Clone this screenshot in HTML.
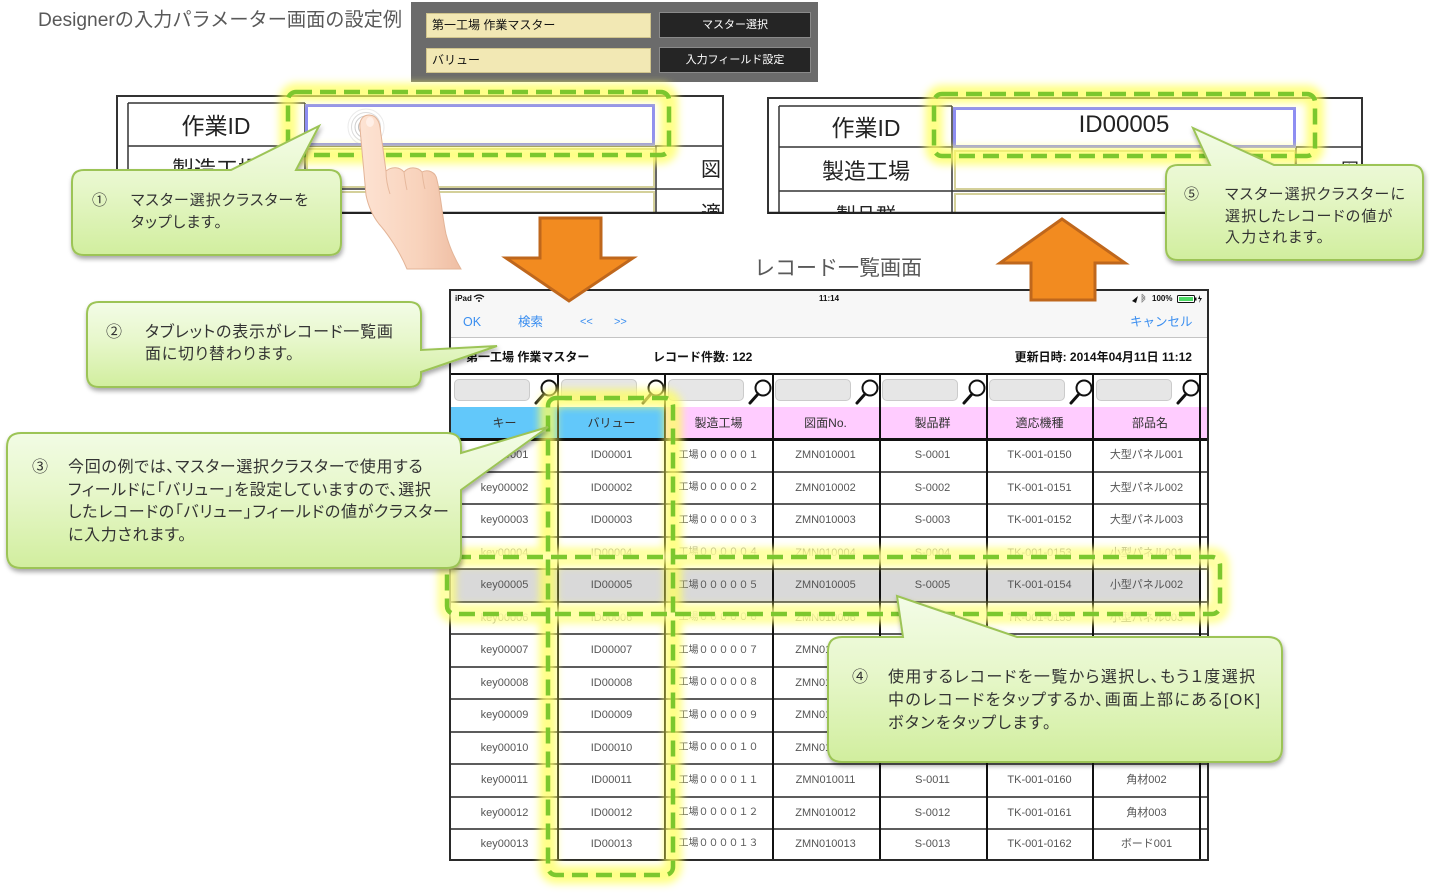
<!DOCTYPE html>
<html><head><meta charset="utf-8"><style>
*{margin:0;padding:0;box-sizing:border-box}
html,body{width:1432px;height:893px;overflow:hidden;background:#fff}
body{position:relative;font-family:"Liberation Sans","Noto Sans CJK JP",sans-serif}
.a{position:absolute;white-space:nowrap}
.r{position:absolute;left:451px;width:749px;display:flex}
.r span{display:block;width:107px;text-align:center;font-size:11px;color:#555;white-space:nowrap}
.r span.c3{font-size:10px}
.r.f span{color:#999}
.sf{position:absolute;top:379px;width:76px;height:22px;background:#e6e6e6;border:1px solid #cbcbcb;border-radius:5px}
.hd{position:absolute;top:407px;height:32px;width:107px;line-height:32px;text-align:center;font-size:12px;color:#333}
.hl{position:absolute;left:451px;width:756px;height:2px;background:#5c5c5c}
.vl{position:absolute;top:374px;height:485px;width:2px;background:#111}
.ct{position:absolute;white-space:nowrap;color:#333;font-feature-settings:"palt";letter-spacing:1px}
.nv{position:absolute;top:314px;font-size:12.5px;line-height:16px;color:#3a8ef0}
.inf{position:absolute;top:349px;font-size:12px;line-height:16px;font-weight:bold;color:#111}
</style></head><body>

<!-- Title -->
<div class="a" style="left:38px;top:9px;font-size:19.2px;line-height:24px;color:#595959">Designerの入力パラメーター画面の設定例</div>

<!-- Designer panel -->
<div class="a" style="left:411px;top:2px;width:407px;height:80px;background:#6b6b6b"></div>
<div class="a" style="left:426px;top:13px;width:225px;height:25px;background:#f2e8b4;border:1px solid #d0c48c;font-size:12px;line-height:23px;padding-left:5px;color:#111">第一工場 作業マスター</div>
<div class="a" style="left:659px;top:12px;width:152px;height:26px;background:#252525;border:1px solid #8a8a8a;color:#fff;font-size:11px;line-height:24px;text-align:center">マスター選択</div>
<div class="a" style="left:426px;top:48px;width:225px;height:25px;background:#f2e8b4;border:1px solid #d0c48c;font-size:12px;line-height:23px;padding-left:5px;color:#111">バリュー</div>
<div class="a" style="left:659px;top:47px;width:152px;height:26px;background:#252525;border:1px solid #8a8a8a;color:#fff;font-size:11px;line-height:24px;text-align:center">入力フィールド設定</div>

<!-- Record list title -->
<div class="a" style="left:754px;top:256px;font-size:21px;line-height:26px;color:#595959">レコード一覧画面</div>

<!-- iPad screen -->
<div class="a" style="left:451px;top:291px;width:756px;height:47px;background:#f7f7f7;border-bottom:1px solid #c4c4c4"></div>
<div class="a" style="left:455px;top:294px;font-size:8px;line-height:10px;font-weight:bold;color:#111">iPad</div>
<div class="a" style="left:819px;top:294px;font-size:8px;line-height:10px;font-weight:bold;color:#111">11:14</div>
<div class="a" style="left:1152px;top:294px;font-size:8px;line-height:10px;font-weight:bold;color:#111">100%</div>

<div class="nv" style="left:463px">OK</div>
<div class="nv" style="left:518px">検索</div>
<div class="nv" style="left:580px;font-size:11px">&lt;&lt;</div>
<div class="nv" style="left:614px;font-size:11px">&gt;&gt;</div>
<div class="nv" style="left:1130px">キャンセル</div>

<div class="inf" style="left:466px">第一工場 作業マスター</div>
<div class="inf" style="left:653px">レコード件数: 122</div>
<div class="inf" style="right:240px">更新日時: 2014年04月11日 11:12</div>

<div class="a" style="left:451px;top:373px;width:756px;height:2px;background:#111"></div>

<!-- search fields -->
<div class="sf" style="left:454px"></div>
<div class="sf" style="left:561px"></div>
<div class="sf" style="left:668px"></div>
<div class="sf" style="left:775px"></div>
<div class="sf" style="left:882px"></div>
<div class="sf" style="left:989px"></div>
<div class="sf" style="left:1096px"></div>

<!-- header -->
<div class="hd" style="left:451px;background:#62c8fa">キー</div>
<div class="hd" style="left:558px;background:#62c8fa">バリュー</div>
<div class="hd" style="left:665px;background:#ffccff">製造工場</div>
<div class="hd" style="left:772px;background:#ffccff">図面No.</div>
<div class="hd" style="left:879px;background:#ffccff">製品群</div>
<div class="hd" style="left:986px;background:#ffccff">適応機種</div>
<div class="hd" style="left:1093px;background:#ffccff;width:114px">部品名</div>

<!-- selected row bg -->
<div class="a" style="left:451px;top:569px;width:749px;height:33px;background:#d9d9d9"></div>

<!-- rows -->
<div class="r" style="top:439px;height:33px;line-height:33px"><span>key00001</span><span>ID00001</span><span class="c3">工場０００００１</span><span>ZMN010001</span><span>S-0001</span><span>TK-001-0150</span><span>大型パネル001</span></div>
<div class="r" style="top:472px;height:32px;line-height:32px"><span>key00002</span><span>ID00002</span><span class="c3">工場０００００２</span><span>ZMN010002</span><span>S-0002</span><span>TK-001-0151</span><span>大型パネル002</span></div>
<div class="r" style="top:504px;height:33px;line-height:33px"><span>key00003</span><span>ID00003</span><span class="c3">工場０００００３</span><span>ZMN010003</span><span>S-0003</span><span>TK-001-0152</span><span>大型パネル003</span></div>
<div class="r f" style="top:537px;height:32px;line-height:32px"><span>key00004</span><span>ID00004</span><span class="c3">工場０００００４</span><span>ZMN010004</span><span>S-0004</span><span>TK-001-0153</span><span>小型パネル001</span></div>
<div class="r" style="top:569px;height:33px;line-height:33px"><span>key00005</span><span>ID00005</span><span class="c3">工場０００００５</span><span>ZMN010005</span><span>S-0005</span><span>TK-001-0154</span><span>小型パネル002</span></div>
<div class="r f" style="top:602px;height:32px;line-height:32px"><span>key00006</span><span>ID00006</span><span class="c3">工場０００００６</span><span>ZMN010006</span><span>S-0006</span><span>TK-001-0155</span><span>小型パネル003</span></div>
<div class="r" style="top:634px;height:33px;line-height:33px"><span>key00007</span><span>ID00007</span><span class="c3">工場０００００７</span><span>ZMN010007</span><span>S-0007</span><span>TK-001-0156</span><span>角材001</span></div>
<div class="r" style="top:667px;height:32px;line-height:32px"><span>key00008</span><span>ID00008</span><span class="c3">工場０００００８</span><span>ZMN010008</span><span>S-0008</span><span>TK-001-0157</span><span>角材001</span></div>
<div class="r" style="top:699px;height:33px;line-height:33px"><span>key00009</span><span>ID00009</span><span class="c3">工場０００００９</span><span>ZMN010009</span><span>S-0009</span><span>TK-001-0158</span><span>角材001</span></div>
<div class="r" style="top:732px;height:32px;line-height:32px"><span>key00010</span><span>ID00010</span><span class="c3">工場００００１０</span><span>ZMN010010</span><span>S-0010</span><span>TK-001-0159</span><span>角材001</span></div>
<div class="r" style="top:764px;height:33px;line-height:33px"><span>key00011</span><span>ID00011</span><span class="c3">工場００００１１</span><span>ZMN010011</span><span>S-0011</span><span>TK-001-0160</span><span>角材002</span></div>
<div class="r" style="top:797px;height:32px;line-height:32px"><span>key00012</span><span>ID00012</span><span class="c3">工場００００１２</span><span>ZMN010012</span><span>S-0012</span><span>TK-001-0161</span><span>角材003</span></div>
<div class="r" style="top:829px;height:30px;line-height:30px"><span>key00013</span><span>ID00013</span><span class="c3">工場００００１３</span><span>ZMN010013</span><span>S-0013</span><span>TK-001-0162</span><span>ボード001</span></div>

<!-- grid lines -->
<div class="a" style="left:451px;top:438px;width:756px;height:3px;background:#111"></div>
<div class="hl" style="top:471px"></div>
<div class="hl" style="top:503px"></div>
<div class="hl" style="top:536px"></div>
<div class="hl" style="top:568px"></div>
<div class="hl" style="top:601px"></div>
<div class="hl" style="top:633px"></div>
<div class="hl" style="top:666px"></div>
<div class="hl" style="top:698px"></div>
<div class="hl" style="top:731px"></div>
<div class="hl" style="top:763px"></div>
<div class="hl" style="top:796px"></div>
<div class="hl" style="top:828px"></div>
<div class="vl" style="left:557px"></div>
<div class="vl" style="left:664px"></div>
<div class="vl" style="left:772px"></div>
<div class="vl" style="left:879px"></div>
<div class="vl" style="left:986px"></div>
<div class="vl" style="left:1092px"></div>
<div class="vl" style="left:1199px"></div>
<div class="a" style="left:449px;top:289px;width:760px;height:572px;border:2px solid #2a2a2a"></div>

<svg class="a" style="left:0;top:0" width="1432" height="893" viewBox="0 0 1432 893">
<defs>
 <linearGradient id="g" x1="0" y1="0" x2="0" y2="1"><stop offset="0" stop-color="#f3fce7"/><stop offset="0.45" stop-color="#e7f7cb"/><stop offset="1" stop-color="#d1ee9e"/></linearGradient>
 <linearGradient id="sk" x1="0" y1="0" x2="1" y2="0"><stop offset="0" stop-color="#fde3d3"/><stop offset="0.6" stop-color="#f8d2bb"/><stop offset="1" stop-color="#efbea3"/></linearGradient>
 <filter id="sh" x="-10%" y="-10%" width="125%" height="135%"><feDropShadow dx="1" dy="3" stdDeviation="2.5" flood-color="#000" flood-opacity="0.35"/></filter>
 <filter id="bl" x="-30%" y="-30%" width="160%" height="160%"><feGaussianBlur stdDeviation="4"/></filter>
 <clipPath id="cf"><rect x="0" y="0" width="1432" height="214"/></clipPath>
</defs>

<!-- status icons -->
<path d="M474,297 q5,-4 10,0 M476,299 q3,-2.5 6,0" stroke="#111" stroke-width="1.2" fill="none"/>
<circle cx="479" cy="301" r="1" fill="#111"/>
<path d="M1132,301 l6,-5 -2,7 z" fill="#111"/>
<path d="M1142,294 l3,3 -3,3 m0,-6 v8 l3,-3 -3,-3" stroke="#888" stroke-width="0.8" fill="none"/>
<rect x="1177.5" y="295.5" width="17" height="7" rx="1" fill="#fff" stroke="#111" stroke-width="1"/>
<rect x="1179" y="297" width="14" height="4" fill="#4cd964"/>
<rect x="1195" y="297.5" width="1.5" height="3" fill="#111"/>
<path d="M1200,295 l-2,4 h2 l-1,4 3,-5 h-2 z" fill="#111"/>

<!-- magnifiers -->
<g stroke="#111" fill="none">
 <g stroke-width="2"><circle cx="549" cy="388" r="7.5"/><circle cx="656" cy="388" r="7.5"/><circle cx="763" cy="388" r="7.5"/><circle cx="870" cy="388" r="7.5"/><circle cx="977" cy="388" r="7.5"/><circle cx="1084" cy="388" r="7.5"/><circle cx="1191" cy="388" r="7.5"/></g>
 <g stroke-width="3" stroke-linecap="round"><path d="M544,394 L536,403"/><path d="M651,394 L643,403"/><path d="M758,394 L750,403"/><path d="M865,394 L857,403"/><path d="M972,394 L964,403"/><path d="M1079,394 L1071,403"/><path d="M1186,394 L1178,403"/></g>
</g>

<!-- Left form -->
<g clip-path="url(#cf)" font-family="Liberation Sans, Noto Sans CJK JP, sans-serif" fill="#222">
 <rect x="117" y="96" width="606" height="140" fill="#fff" stroke="#333" stroke-width="2"/>
 <rect x="307" y="149" width="347" height="38" fill="#fff" stroke="#d4d09a" stroke-width="2"/>
 <rect x="307" y="192" width="347" height="38" fill="#fff" stroke="#d4d09a" stroke-width="2"/>
 <g stroke="#333" stroke-width="1.5">
  <path d="M128,103 V220 M128,103 H305 M305,103 V220 M128,146 H723 M128,189 H723 M656,146 V220"/>
 </g>
 <rect x="306.5" y="105.5" width="347" height="39" fill="#fff" stroke="#8e8ef2" stroke-width="3"/>
 <text x="216" y="134" font-size="23" text-anchor="middle">作業ID</text>
 <text x="216" y="177" font-size="22" text-anchor="middle">製造工場</text>
 <text x="711" y="176" font-size="20" text-anchor="middle">図</text>
 <text x="711" y="220" font-size="20" text-anchor="middle">適</text>
 <line x1="117" y1="213" x2="723" y2="213" stroke="#222" stroke-width="2.5"/>
</g>

<!-- Right form -->
<g clip-path="url(#cf)" font-family="Liberation Sans, Noto Sans CJK JP, sans-serif" fill="#222">
 <rect x="768" y="98" width="594" height="140" fill="#fff" stroke="#333" stroke-width="2"/>
 <rect x="955" y="151" width="340" height="38" fill="#fff" stroke="#d4d09a" stroke-width="2"/>
 <rect x="955" y="194" width="340" height="38" fill="#fff" stroke="#d4d09a" stroke-width="2"/>
 <g stroke="#333" stroke-width="1.5">
  <path d="M779,106 V220 M779,106 H952 M952,106 V220 M779,147 H1362 M779,191 H1362 M1296,147 V220"/>
 </g>
 <rect x="954.5" y="108.5" width="340" height="38" fill="#fff" stroke="#8e8ef2" stroke-width="3"/>
 <text x="866" y="136" font-size="23" text-anchor="middle">作業ID</text>
 <text x="866" y="179" font-size="22" text-anchor="middle">製造工場</text>
 <text x="866" y="222" font-size="20" text-anchor="middle">製品群</text>
 <text x="1124" y="132" font-size="24" text-anchor="middle">ID00005</text>
 <text x="1350" y="176" font-size="18" text-anchor="middle">図</text>
 <line x1="768" y1="213" x2="1362" y2="213" stroke="#222" stroke-width="2.5"/>
</g>

<!-- glows -->
<g fill="none" stroke="#ffff5e" stroke-width="18" opacity="0.75" filter="url(#bl)">
 <rect x="288" y="92" width="381" height="63" rx="8"/>
 <rect x="934" y="94" width="381" height="62" rx="8"/>
 <rect x="548" y="398" width="125" height="477" rx="8"/>
 <rect x="447" y="557" width="773" height="57" rx="8"/>
</g>
<g fill="none" stroke="#fffff0" stroke-width="8" opacity="0.45" filter="url(#bl)">
 <rect x="447" y="557" width="773" height="57" rx="8"/>
</g>
<!-- dashed boxes -->
<g fill="none" stroke="#7cc72e" stroke-width="4.5" stroke-dasharray="16 8">
 <rect x="288" y="92" width="381" height="63" rx="8"/>
 <rect x="934" y="94" width="381" height="62" rx="8"/>
 <rect x="548" y="398" width="125" height="477" rx="8"/>
 <rect x="447" y="557" width="773" height="57" rx="8"/>
</g>

<!-- tap ripple -->
<g fill="none" stroke="#b9b9b9" stroke-width="1">
 <circle cx="366" cy="127" r="4"/><circle cx="366" cy="127" r="7.5" opacity="0.9"/><circle cx="366" cy="127" r="11" opacity="0.7"/><circle cx="366" cy="127" r="14.5" opacity="0.5"/><circle cx="366" cy="127" r="18" opacity="0.3"/>
</g>

<!-- hand -->
<path d="M360,128 C359,120 363,115 369,115 C375,115 379,120 380,127 L386,171 C392,166 400,167 404,172 C409,166 418,167 422,172 C428,169 436,172 437,180 C441,196 442,215 446,234 C450,249 455,259 461,269 L407,269 C400,252 388,234 379,224 C372,215 368,205 366,195 C364,175 362,150 360,128 Z" fill="url(#sk)" stroke="#e3b497" stroke-width="1"/>
<path d="M386,171 C386,180 388,188 390,194 M404,172 C405,180 406,186 407,190 M422,172 C423,180 424,186 425,189" stroke="#e6b89c" stroke-width="1" fill="none"/>
<ellipse cx="370" cy="122" rx="4" ry="5" fill="#fff3ec" opacity="0.8"/>

<!-- arrows -->
<path d="M540,218 H601 V258 H633 L569,301 L506,258 H540 Z" fill="#f28b20" stroke="#bf671c" stroke-width="3" stroke-linejoin="miter"/>
<path d="M1062,219 L1125,263 H1095 V300 H1031 V263 H1000 Z" fill="#f28b20" stroke="#bf671c" stroke-width="3" stroke-linejoin="miter"/>

<!-- callouts -->
<g fill="url(#g)" stroke="#9cc456" stroke-width="2" filter="url(#sh)">
 <path d="M84,170 H231 L319,126 L296,170 H329 Q341,170 341,182 V243 Q341,255 329,255 H84 Q72,255 72,243 V182 Q72,170 84,170 Z"/>
 <path d="M99,302 H409 Q421,302 421,314 V350 L497,346 L421,372 V375 Q421,387 409,387 H99 Q87,387 87,375 V314 Q87,302 99,302 Z"/>
 <path d="M21,433 H447 Q461,433 461,447 V453 L548,427 L461,490 V554 Q461,568 447,568 H21 Q7,568 7,554 V447 Q7,433 21,433 Z"/>
 <path d="M842,637 H903 L897,596 L1017,637 H1268 Q1282,637 1282,651 V748 Q1282,762 1268,762 H842 Q828,762 828,748 V651 Q828,637 842,637 Z"/>
 <path d="M1178,165 H1210 L1193,128 L1274,165 H1411 Q1423,165 1423,177 V248 Q1423,260 1411,260 H1178 Q1166,260 1166,248 V177 Q1166,165 1178,165 Z"/>
</g>
</svg>

<!-- callout texts -->
<div class="ct" style="left:92px;top:190px;font-size:15px;line-height:22px">①</div>
<div class="ct" style="left:131px;top:190px;font-size:15px;line-height:22px">マスター選択クラスターを<br>タップします。</div>

<div class="ct" style="left:106px;top:322px;font-size:16px;line-height:22px">②</div>
<div class="ct" style="left:145px;top:322px;font-size:16px;line-height:22px;letter-spacing:0.8px">タブレットの表示がレコード一覧画<br>面に切り替わります。</div>

<div class="ct" style="left:32px;top:457px;font-size:16px;line-height:22.5px">③</div>
<div class="ct" style="left:68px;top:457px;font-size:16px;line-height:22.5px;letter-spacing:0.7px">今回の例では、マスター選択クラスターで使用する<br>フィールドに「バリュー」を設定していますので、選択<br>したレコードの「バリュー」フィールドの値がクラスター<br>に入力されます。</div>

<div class="ct" style="left:852px;top:666px;font-size:16px;line-height:23px">④</div>
<div class="ct" style="left:888px;top:666px;font-size:16px;line-height:23px;letter-spacing:1.4px">使用するレコードを一覧から選択し、もう１度選択<br>中のレコードをタップするか、画面上部にある[OK]<br>ボタンをタップします。</div>

<div class="ct" style="left:1184px;top:184px;font-size:15px;line-height:21.5px">⑤</div>
<div class="ct" style="left:1225px;top:184px;font-size:15px;line-height:21.5px;letter-spacing:1.2px">マスター選択クラスターに<br>選択したレコードの値が<br>入力されます。</div>

</body></html>
